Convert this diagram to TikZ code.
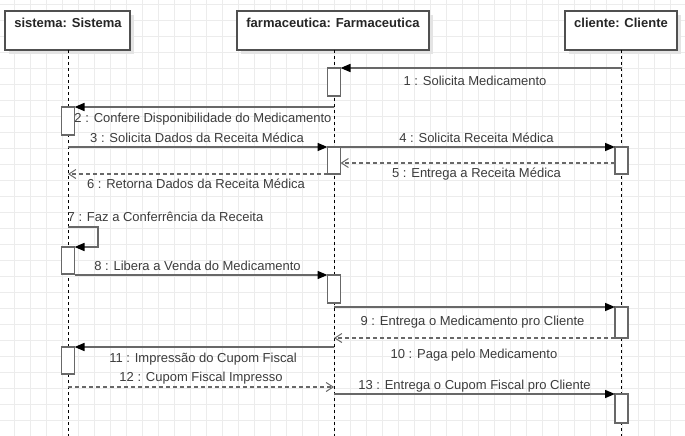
\documentclass[tikz,border=0pt]{standalone}
\usepackage{fontspec}
\setmainfont{Liberation Sans}
\usetikzlibrary{arrows.meta,shadows}
\definecolor{gridc}{RGB}{236,236,236}
\definecolor{linec}{RGB}{104,104,104}
\definecolor{boxc}{RGB}{80,80,80}
\definecolor{txtc}{RGB}{60,60,60}
\definecolor{shadc}{RGB}{228,228,228}
\begin{document}
\begin{tikzpicture}[x=1pt,y=-1pt,
  headbox/.style={draw=boxc, line width=1.4pt, fill=white, minimum width=#1, minimum height=39pt,
    inner sep=0pt, outer sep=0pt, drop shadow={shadow xshift=4pt, shadow yshift=-4pt, fill=shadc, opacity=1}},
  headtxt/.style={anchor=base, inner sep=0pt, font=\fontsize{13}{15}\selectfont\bfseries, text=black!85},
  lifeline/.style={black, line width=1pt, dash pattern=on 3pt off 3pt},
  actbox/.style={draw=linec, line width=1.4pt, fill=white, minimum width=13pt, minimum height=#1,
    anchor=north, inner sep=0pt, outer sep=0pt},
  msg/.style={draw=linec, line width=1.5pt, -{Triangle[length=10pt,width=8pt,fill=black,color=black]}},
  ret/.style={draw=linec, line width=1.5pt, dash pattern=on 4pt off 3pt,
    -{Straight Barb[length=7pt,width=9pt,line width=1pt,color=linec]}},
  lbl/.style={anchor=base, inner sep=0pt, font=\fontsize{13}{15}\selectfont, text=txtc}]
\useasboundingbox (0,0) rectangle (685,436);
\fill[white] (0,0) rectangle (685,436);
% grid
\foreach \gx in {14,30,...,685} \draw[gridc, line width=0.8pt] (\gx,0) -- (\gx,436);
\foreach \gy in {4,20,...,436} \draw[gridc, line width=0.8pt] (0,\gy) -- (685,\gy);

% heads
\node[headbox=125pt] (hs) at (67.5,30.5) {};
\node[headbox=192pt] (hf) at (333,30.5) {};
\node[headbox=112pt] (hc) at (621,30.5) {};
\node[headtxt] (ts) at (68,28) {sistema: Sistema};
\node[headtxt] (tf) at (333,28) {farmaceutica: Farmaceutica};
\node[headtxt] (tc) at (621,28) {cliente: Cliente};

% lifelines
\coordinate (es) at (68,436);
\coordinate (ef) at (334,436);
\coordinate (ec) at (621.5,436);
\draw[lifeline] (hs.south -| es) -- (es);
\draw[lifeline] (hf.south -| ef) -- (ef);
\draw[lifeline] (hc.south -| ec) -- (ec);

% activations
\node[actbox=28pt] (a1) at (334,68) {};
\node[actbox=28pt] (a2) at (68,107) {};
\node[actbox=27pt] (a3) at (334,147) {};
\node[actbox=27pt] (a4) at (621.5,147) {};
\node[actbox=27pt] (a7) at (68,247) {};
\node[actbox=28pt] (a8) at (334,275) {};
\node[actbox=31pt] (a9) at (621.5,307) {};
\node[actbox=27pt] (a11) at (68,347) {};
\node[actbox=29pt] (a13) at (621.5,394) {};

% lifeline points
\coordinate (c1) at (621.5,68);
\coordinate (f2) at (334,107);
\coordinate (s3) at (68,147);
\coordinate (s6) at (68,174);
\coordinate (s7) at (68,227);
\coordinate (f9) at (334,307);
\coordinate (f10) at (334,338);
\coordinate (f11) at (334,347);
\coordinate (s12) at (68,387);
\coordinate (f12) at (334,387);
\coordinate (f13) at (334,394);

% messages
\draw[msg] (c1) -- (a1.north east);
\draw[msg] (f2) -- (a2.north east);
\draw[msg] (s3) -- (a3.north west);
\draw[msg] (a3.north east) -- (a4.north west);
\draw[ret] ([yshift=-16pt]a4.north west) -- ([yshift=-16pt]a3.north east);
\draw[ret] (a3.south west) -- (s6);
\draw[msg] (s7) -- ++(30,0) |- (a7.north east);
\draw[msg] (a7.east |- a8.north west) -- (a8.north west);
\draw[msg] (f9) -- (a9.north west);
\draw[ret] (a9.south west) -- (f10);
\draw[msg] (f11) -- (a11.north east);
\draw[ret] (s12) -- (f12);
\draw[msg] (f13) -- (a13.north west);

% labels
\node[lbl] (l1) at (475,85) {1 : Solicita Medicamento};
\node[lbl] (l2) at (203,122) {2 : Confere Disponibilidade do Medicamento};
\node[lbl] (l3) at (197,142) {3 : Solicita Dados da Receita Médica};
\node[lbl] (l4) at (476.5,142) {4 : Solicita Receita Médica};
\node[lbl] (l5) at (476.5,177) {5 : Entrega a Receita Médica};
\node[lbl] (l6) at (196,188) {6 : Retorna Dados da Receita Médica};
\node[lbl, anchor=base west] (l7) at (67.5,221) {7 : Faz a Conferrência da Receita};
\node[lbl] (l8) at (197.5,270) {8 : Libera a Venda do Medicamento};
\node[lbl] (l9) at (472.5,325) {9 : Entrega o Medicamento pro Cliente};
\node[lbl] (l10) at (474,358) {10 : Paga pelo Medicamento};
\node[lbl] (l11) at (203,362) {11 : Impressão do Cupom Fiscal};
\node[lbl] (l12) at (201,381.5) {12 : Cupom Fiscal Impresso};
\node[lbl] (l13) at (474.5,389.5) {13 : Entrega o Cupom Fiscal pro Cliente};
\end{tikzpicture}
\end{document}
